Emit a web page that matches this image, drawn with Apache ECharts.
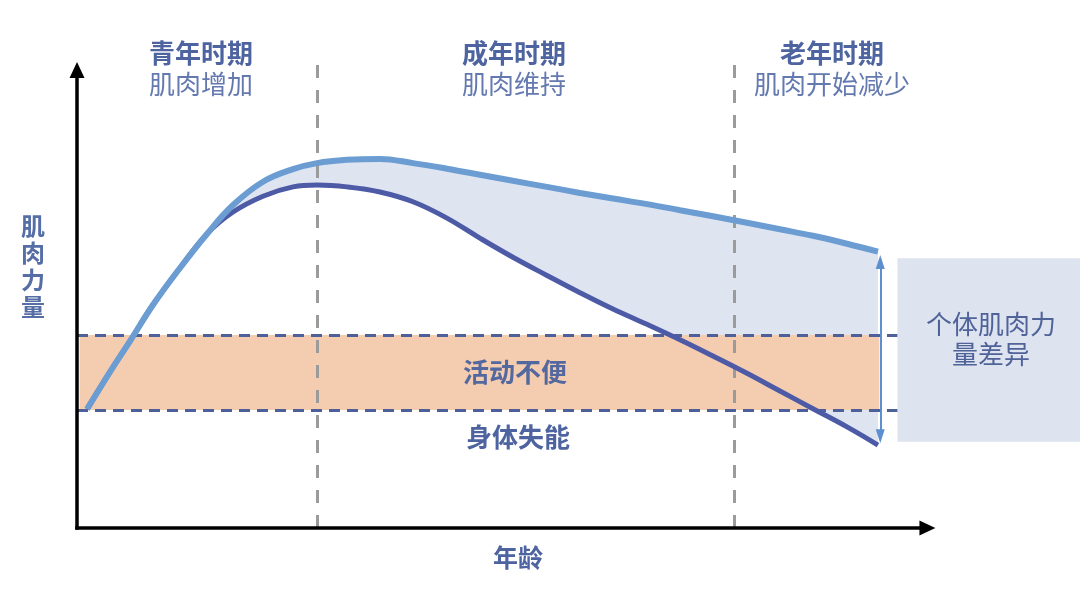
<!DOCTYPE html>
<html>
<head>
<meta charset="utf-8">
<title>肌肉力量与年龄</title>
<script src="https://cdn.jsdelivr.net/npm/echarts@6/dist/echarts.min.js"></script>
<style>
  html, body { margin: 0; padding: 0; background: #fff; }
  #chart { width: 1080px; height: 591px; }
</style>
</head>
<body>
<div id="chart"></div>
<script>
// 年龄（无单位，坐标轴箭头约在 100 处）
const ages = [1.17, 3.85, 6.18, 8.87, 12.01, 15.16, 18.20, 21.70, 25.20, 28.00, 31.49, 35.34, 39.19, 43.15,
              47.00, 50.85, 54.82, 58.67, 62.52, 66.49, 70.34, 74.19, 78.15, 82.00, 85.85, 89.82, 93.43];
// 肌肉力量：上限曲线 / 下限曲线
const upperStrength = [25.5, 33.5, 40.1, 47.9, 55.8, 63.1, 69.3, 74.3, 77.0, 78.3, 79.0, 79.2, 78.3, 77.1,
                       75.8, 74.5, 73.2, 71.9, 70.7, 69.5, 68.2, 66.9, 65.5, 64.1, 62.7, 61.0, 59.3];
const lowerStrength = [25.5, 33.5, 40.1, 47.9, 55.8, 63.1, 67.8, 71.2, 73.2, 73.6, 73.2, 72.1, 70.0, 66.5,
                       62.2, 58.1, 54.2, 50.5, 47.0, 43.7, 40.4, 36.9, 33.2, 29.4, 25.6, 21.7, 17.8];
// 阶段分界（青年/成年，成年/老年）
const stageBounds = [28.0, 76.7];
// 阈值：身体失能 / 活动不便
const thresholds = [25.3, 41.4];
// 个体差异范围（右侧双箭头）
const spreadRange = [19.7, 57.1];
const spreadAge = 93.7;

const stageTitles = ['青年时期', '成年时期', '老年时期'];
const stageNotes = ['肌肉增加', '肌肉维持', '肌肉开始减少'];

const FONT = '"Noto Sans CJK SC", "Noto Sans", sans-serif';
const TEXT_DARK = '#4d64a0';
const TEXT_LIGHT = '#6479b0';

const chart = echarts.init(document.getElementById('chart'));

const pairs = (xs, ys) => xs.map((x, i) => [x, ys[i]]);

function text(str, x, y, opts) {
    opts = opts || {};
    return {
        type: 'text',
        x: x,
        y: y,
        z: 100,
        silent: true,
        style: {
            text: str,
            align: 'center',
            verticalAlign: 'middle',
            font: opts.font || ('bold 26px ' + FONT),
            fill: opts.fill || TEXT_DARK,
            lineHeight: opts.lineHeight
        }
    };
}

const stageCenters = [201, 514, 832];
const graphics = [];
stageTitles.forEach((t, i) => {
    graphics.push(text(t, stageCenters[i], 53));
    graphics.push(text(stageNotes[i], stageCenters[i], 84, { font: '26px ' + FONT, fill: TEXT_LIGHT }));
});
graphics.push(text('活动不便', 515, 372, { font: 'bold 26px ' + FONT, fill: '#5468a0' }));
graphics.push(text('身体失能', 518, 437, { font: 'bold 26px ' + FONT }));
graphics.push(text('年龄', 518, 557, { font: 'bold 25px ' + FONT }));
graphics.push(text('肌\n肉\n力\n量', 33, 266, { font: 'bold 24px ' + FONT, fill: '#566ea6', lineHeight: 27 }));
graphics.push(text('个体肌肉力\n量差异', 991, 339, { font: '26px ' + FONT, fill: '#4f6399', lineHeight: 30 }));

const option = {
    animation: false,
    grid: { left: 77, right: 0, top: 0, bottom: 63 },
    xAxis: { type: 'value', min: 0, max: 117, show: false },
    yAxis: { type: 'value', min: 0, max: 113.3, show: false },
    graphic: graphics,
    series: [
        {
            // 上限曲线以下填充淡紫
            name: 'upperFill',
            type: 'line',
            data: pairs(ages, upperStrength),
            smooth: 0.4,
            showSymbol: false,
            silent: true,
            lineStyle: { opacity: 0 },
            areaStyle: { color: '#dfe4f1', opacity: 1 },
            z: 1
        },
        {
            // 下限曲线以下留白，只保留两曲线之间的填充
            name: 'lowerFill',
            type: 'line',
            data: pairs(ages, lowerStrength),
            smooth: 0.4,
            showSymbol: false,
            silent: true,
            lineStyle: { opacity: 0 },
            areaStyle: { color: '#ffffff', opacity: 1 },
            z: 2
        },
        {
            name: 'zones',
            type: 'line',
            data: [],
            silent: true,
            markArea: {
                silent: true,
                z: 3,
                label: { show: false },
                data: [
                    [
                        { xAxis: 0.3, yAxis: thresholds[1], itemStyle: { color: '#f4cdb0' } },
                        { xAxis: spreadAge - 0.1, yAxis: thresholds[0] }
                    ],
                    [
                        { xAxis: 95.7, yAxis: 57.9, itemStyle: { color: '#dee3f0' } },
                        { xAxis: 117, yAxis: 18.5 }
                    ]
                ]
            }
        },
        {
            name: 'stages',
            type: 'line',
            data: [],
            silent: true,
            markLine: {
                silent: true,
                z: 4,
                symbol: ['none', 'none'],
                label: { show: false },
                lineStyle: { color: '#9b9b9b', width: 3, type: [13, 12] },
                data: stageBounds.map(x => [{ coord: [x, 0] }, { coord: [x, 101.5] }])
            }
        },
        {
            name: 'levels',
            type: 'line',
            data: [],
            silent: true,
            markLine: {
                silent: true,
                z: 4,
                symbol: ['none', 'none'],
                label: { show: false },
                lineStyle: { color: '#4d609a', width: 3, type: [11, 7] },
                data: thresholds.map(y => [{ coord: [0, y] }, { coord: [95.7, y] }])
            }
        },
        {
            name: '下限',
            type: 'line',
            data: pairs(ages, lowerStrength),
            smooth: 0.4,
            showSymbol: false,
            silent: true,
            lineStyle: { color: '#4d5aa6', width: 5 },
            z: 5
        },
        {
            name: '上限',
            type: 'line',
            data: pairs(ages, upperStrength),
            smooth: 0.4,
            showSymbol: false,
            silent: true,
            lineStyle: { color: '#6b9dd3', width: 6 },
            z: 6
        },
        {
            name: 'axes',
            type: 'line',
            data: [],
            silent: true,
            markLine: {
                silent: true,
                z: 7,
                symbol: ['none', 'triangle'],
                symbolSize: [15, 16],
                label: { show: false },
                lineStyle: { color: '#000', width: 3.5, type: 'solid', cap: 'square' },
                data: [
                    [{ coord: [0, 0] }, { coord: [0, 98.3] }],
                    [{ coord: [0, 0] }, { coord: [99.2, 0] }]
                ]
            }
        },
        {
            name: 'spread',
            type: 'line',
            data: [],
            silent: true,
            markLine: {
                silent: true,
                z: 7,
                symbol: ['triangle', 'triangle'],
                symbolSize: [9, 14],
                label: { show: false },
                lineStyle: { color: '#5b8fd0', width: 2, type: 'solid' },
                data: [[{ coord: [spreadAge, spreadRange[0]] }, { coord: [spreadAge, spreadRange[1]] }]]
            }
        }
    ]
};

chart.setOption(option);
window.addEventListener('resize', () => chart.resize());
</script>
</body>
</html>
